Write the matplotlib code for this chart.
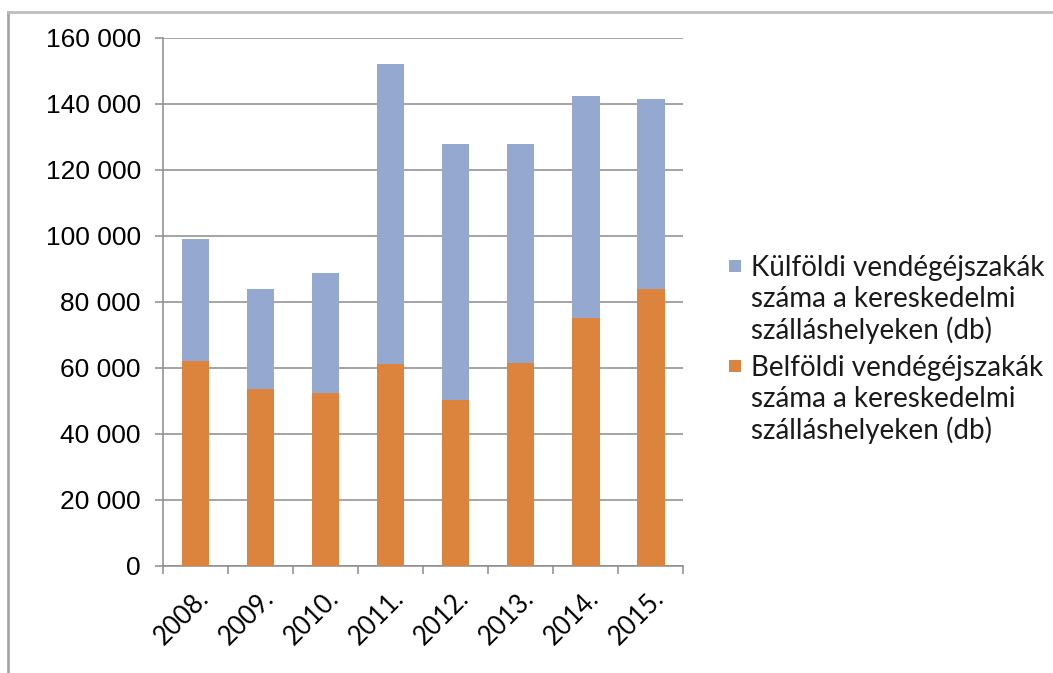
import matplotlib
matplotlib.use("Agg")
import matplotlib.pyplot as plt
from matplotlib.ticker import FuncFormatter, MultipleLocator
from matplotlib.lines import Line2D
from matplotlib.patches import Rectangle
import numpy as np

# Vendégéjszakák a kereskedelmi szálláshelyeken, 2008-2015 (leolvasott értékek)
years = ['2008.', '2009.', '2010.', '2011.', '2012.', '2013.', '2014.', '2015.']
belfoldi = [62100, 53600, 52300, 61200, 50200, 61500, 75200, 84000]
kulfoldi = [36900, 30400, 36400, 90800, 77500, 66200, 67100, 57300]

label_kulf = 'Külföldi vendégéjszakák\nszáma a kereskedelmi\nszálláshelyeken (db)'
label_belf = 'Belföldi vendégéjszakák\nszáma a kereskedelmi\nszálláshelyeken (db)'

c_blue = '#95a9d0'
c_orange = '#dc843e'
grid_c = '#8c8c8c'

W, H = 1053, 673
fig = plt.figure(figsize=(W / 100, H / 100), dpi=100)
ax = fig.add_axes([0.155, 0.159, 0.494, 0.785])

x = np.arange(len(years))
ax.bar(x, belfoldi, width=0.42, color=c_orange, zorder=3)
ax.bar(x, kulfoldi, width=0.42, bottom=belfoldi, color=c_blue, zorder=3)

ax.set_xlim(-0.5, len(years) - 0.5)
ax.set_ylim(0, 160000)
ax.yaxis.set_major_locator(MultipleLocator(20000))
ax.yaxis.set_major_formatter(FuncFormatter(lambda v, p: f'{int(v):,}'.replace(',', ' ')))
ax.grid(axis='y', color=grid_c, linewidth=1.1, zorder=0)

ax.set_xticks(x)
ax.set_xticklabels(years, rotation=45, ha='right', rotation_mode='anchor',
                   family='Lato', fontsize=18.5)
ax.set_xticks(np.arange(-0.5, len(years)), minor=True)
ax.tick_params(axis='x', which='major', length=0, pad=14)
ax.tick_params(axis='x', which='minor', length=6, color=grid_c, width=1.1)
ax.tick_params(axis='y', length=6, color=grid_c, width=1.1, pad=10, labelsize=19)
for lab in ax.get_yticklabels():
    lab.set_family('Liberation Sans')

for side in ['top', 'right']:
    ax.spines[side].set_visible(False)
for side in ['left', 'bottom']:
    ax.spines[side].set_color(grid_c)
    ax.spines[side].set_linewidth(1.1)

# jelmagyarázat: a négyzet az első sorhoz igazítva
legend_items = [(c_blue, label_kulf, 266), (c_orange, label_belf, 366)]
for color, text, y_px in legend_items:
    fig.add_artist(Rectangle((729 / W, 1 - (y_px + 6) / H), 12 / W, 12 / H,
                             transform=fig.transFigure, facecolor=color,
                             edgecolor='none'))
    fig.text(751 / W, 1 - (y_px - 11) / H, text, va='top', ha='left',
             family='Lato', fontsize=20, linespacing=1.22, color='#1a1a1a')

# keret a kép bal és felső szélén
fig.add_artist(Line2D([0.008, 0.008], [0.0, 0.982], transform=fig.transFigure,
                      color='#a6a6a6', linewidth=2))
fig.add_artist(Line2D([0.008, 1.0], [0.982, 0.982], transform=fig.transFigure,
                      color='#bdbdbd', linewidth=2))

fig.savefig('out.png', dpi=100, facecolor='white')
